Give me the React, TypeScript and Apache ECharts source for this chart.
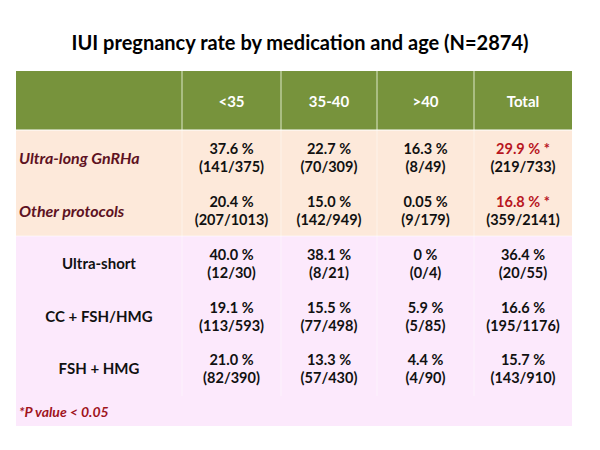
import React, { useEffect, useRef } from "react";
import * as echarts from "echarts";

const title = "IUI pregnancy rate by medication and age (N=2874)";
const ageGroups = ["<35", "35-40", ">40", "Total"];
const protocolLabels = ["Ultra-long GnRHa", "Other protocols"];
const protocolRates = [
  ["37.6 %", "22.7 %", "16.3 %", "29.9 % *"],
  ["20.4 %", "15.0 %", "0.05 %", "16.8 % *"],
];
const protocolCounts = [
  ["(141/375)", "(70/309)", "(8/49)", "(219/733)"],
  ["(207/1013)", "(142/949)", "(9/179)", "(359/2141)"],
];
const medicationLabels = ["Ultra-short", "CC + FSH/HMG", "FSH + HMG"];
const medicationRates = [
  ["40.0 %", "38.1 %", "0 %", "36.4 %"],
  ["19.1 %", "15.5 %", "5.9 %", "16.6 %"],
  ["21.0 %", "13.3 %", "4.4 %", "15.7 %"],
];
const medicationCounts = [
  ["(12/30)", "(8/21)", "(0/4)", "(20/55)"],
  ["(113/593)", "(77/498)", "(5/85)", "(195/1176)"],
  ["(82/390)", "(57/430)", "(4/90)", "(143/910)"],
];
const footnote = "*P value < 0.05";

const FONT = "Lato, 'Open Sans', sans-serif";
const colX = [16, 182, 281, 377, 474, 572];
const headerTop = 71;
const headerBottom = 130;
const peachBottom = 236;
const pinkBottom = 426;
const protocolY = [157, 210];
const medicationY = [263, 316, 368];

const GREEN = "#77933C";
const PEACH = "#FDE9DA";
const PINK = "#FCE9FC";
const DARKRED = "#5E1222";
const RED = "#B8161E";
const BLACK = "#111111";

function buildGraphic() {
  const els: any[] = [];
  els.push({
    type: "text",
    x: 300,
    y: 42,
    style: {
      text: title,
      font: `bold 20px ${FONT}`,
      fill: "#000",
      align: "center",
      verticalAlign: "middle",
    },
  });
  els.push({ type: "rect", shape: { x: colX[0], y: headerTop, width: colX[5] - colX[0], height: headerBottom - headerTop }, style: { fill: GREEN } });
  els.push({ type: "rect", shape: { x: colX[0], y: headerBottom, width: colX[5] - colX[0], height: peachBottom - headerBottom }, style: { fill: PEACH } });
  els.push({ type: "rect", shape: { x: colX[0], y: peachBottom, width: colX[5] - colX[0], height: pinkBottom - peachBottom }, style: { fill: PINK } });
  for (let i = 1; i < 5; i++) {
    els.push({ type: "line", shape: { x1: colX[i], y1: headerTop, x2: colX[i], y2: headerBottom }, style: { stroke: "#DDE8C8", lineWidth: 1 } });
    els.push({ type: "line", shape: { x1: colX[i], y1: headerBottom, x2: colX[i], y2: pinkBottom - 30 }, style: { stroke: "rgba(255,255,255,0.45)", lineWidth: 1 } });
  }
  els.push({ type: "line", shape: { x1: colX[0], y1: headerBottom, x2: colX[5], y2: headerBottom }, style: { stroke: "#ffffff", lineWidth: 1 } });
  els.push({ type: "line", shape: { x1: colX[0], y1: peachBottom, x2: colX[5], y2: peachBottom }, style: { stroke: "rgba(255,255,255,0.6)", lineWidth: 1 } });

  ageGroups.forEach((g, i) => {
    els.push({
      type: "text",
      x: (colX[i + 1] + colX[i + 2]) / 2,
      y: (headerTop + headerBottom) / 2,
      style: { text: g, font: `bold 15px ${FONT}`, fill: "#fff", align: "center", verticalAlign: "middle" },
    });
  });

  const addCells = (rates: string[][], counts: string[][], ys: number[], redTotal: boolean) => {
    rates.forEach((row, r) => {
      row.forEach((v, c) => {
        const cx = (colX[c + 1] + colX[c + 2]) / 2;
        els.push({
          type: "text",
          x: cx,
          y: ys[r] - 9,
          style: { text: v, font: `bold 14.5px ${FONT}`, fill: redTotal && c === 3 ? RED : BLACK, align: "center", verticalAlign: "middle" },
        });
        els.push({
          type: "text",
          x: cx,
          y: ys[r] + 9,
          style: { text: counts[r][c], font: `bold 14.5px ${FONT}`, fill: BLACK, align: "center", verticalAlign: "middle" },
        });
      });
    });
  };
  addCells(protocolRates, protocolCounts, protocolY, true);
  addCells(medicationRates, medicationCounts, medicationY, false);

  protocolLabels.forEach((l, i) => {
    els.push({
      type: "text",
      x: 19,
      y: protocolY[i],
      style: { text: l, font: `italic bold 16px ${FONT}`, fill: DARKRED, align: "left", verticalAlign: "middle" },
    });
  });
  medicationLabels.forEach((l, i) => {
    els.push({
      type: "text",
      x: (colX[0] + colX[1]) / 2,
      y: medicationY[i],
      style: { text: l, font: `bold 15px ${FONT}`, fill: BLACK, align: "center", verticalAlign: "middle" },
    });
  });
  els.push({
    type: "text",
    x: 19,
    y: 411,
    style: { text: footnote, font: `italic bold 14px ${FONT}`, fill: "#A0141C", align: "left", verticalAlign: "middle" },
  });
  return els;
}

export default function App() {
  const ref = useRef<HTMLDivElement>(null);
  useEffect(() => {
    if (!ref.current) return;
    const chart = echarts.init(ref.current, null, { renderer: "svg" });
    chart.setOption({
      animation: false,
      backgroundColor: "#ffffff",
      graphic: { elements: buildGraphic() },
    });
    return () => chart.dispose();
  }, []);
  return <div ref={ref} style={{ width: 600, height: 450, position: "absolute", left: 0, top: 0 }} />;
}
